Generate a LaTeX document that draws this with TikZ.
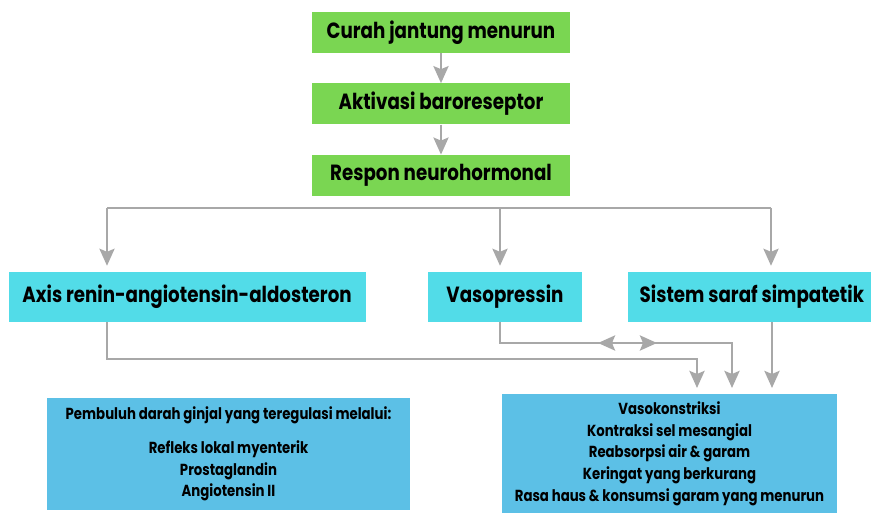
\documentclass[tikz,border=0pt]{standalone}
\usepackage{fontspec}
\setmainfont{Poppins}[FakeStretch=0.83]
\usepackage{tikz}
\usetikzlibrary{positioning,arrows.meta}
\definecolor{stepgreen}{RGB}{122,214,82}
\definecolor{pathcyan}{RGB}{82,220,232}
\definecolor{effblue}{RGB}{92,192,230}
\definecolor{linkgrey}{RGB}{168,168,168}
\tikzset{
stepbox/.style={
fill=stepgreen,
minimum width=258pt,
minimum height=41pt,
inner sep=0pt,
font=\fontsize{22}{26}\selectfont\bfseries
},
pathway/.style={
fill=pathcyan,
minimum height=50pt,
inner sep=0pt,
font=\fontsize{22}{26}\selectfont\bfseries
},
effectbox/.style={
fill=effblue,
inner sep=0pt,
align=center,
font=\fontsize{16}{21.7}\selectfont\bfseries
},
link/.style={
draw=linkgrey,
line width=2.8pt
},
arrow/.style={
link,
-{Stealth[length=17pt,width=15pt,inset=3pt]},
shorten >=6pt
}
}

\begin{document}
\begin{tikzpicture}[x=1pt,y=1pt,node distance=30pt]
\useasboundingbox (0,0) rectangle (871,-513);
\node[stepbox] (curah) at (441,-32.5) {Curah jantung menurun};
\node[stepbox,below=of curah] (baro) {Aktivasi baroreseptor};
\node[stepbox,below=of baro] (respon) {Respon neurohormonal};

\node[pathway,minimum width=154pt] (vaso) at (505,-297) {Vasopressin};
\node[pathway,minimum width=357pt,left=62pt of vaso] (raas) {Axis renin-angiotensin-aldosteron};
\node[pathway,minimum width=247pt,right=46pt of vaso] (simp) {Sistem saraf simpatetik};

\node[effectbox,minimum width=363pt,minimum height=112pt] (renal) at (228.5,-454)
{Pembuluh darah ginjal yang teregulasi melalui:\\[12pt]
Refleks lokal myenterik\\Prostaglandin\\Angiotensin II};
\node[effectbox,minimum width=335pt,minimum height=119pt] (efek) at (669.5,-453.5)
{Vasokonstriksi\\Kontraksi sel mesangial\\Reabsorpsi air \& garam\\
Keringat yang berkurang\\Rasa haus \& konsumsi garam yang menurun};

\foreach \x/\y in {curah/baro,baro/respon}
\draw[arrow,shorten >=0pt](\x)--(\y);

% branch
\coordinate (bl) at (107,-208);
\coordinate (bc) at (500,-208);
\coordinate (br) at (771,-208);
\draw[link] (bl)--(br);
\foreach \c/\n in {bl/raas,bc/vaso,br/simp}
\draw[arrow](\c)--(\c |- \n.north);

% into the effects
\coordinate (t1) at (697,-394);
\coordinate (t2) at (732,-394);
\coordinate (t3) at (772,-394);
\draw[arrow] (bl |- raas.south) -- (107,-359) -| (t1);
\draw[arrow] (bc |- vaso.south) -- (500,-343) -| (t2);
\draw[arrow] (t3 |- simp.south) -- (t3);
\coordinate (dl) at (598,-343);
\coordinate (dr) at (657,-343);
\draw[link,{Stealth[length=17pt,width=15pt,inset=3pt]}-{Stealth[length=17pt,width=15pt,inset=3pt]}] (dl)--(dr);
\end{tikzpicture}
\end{document}
